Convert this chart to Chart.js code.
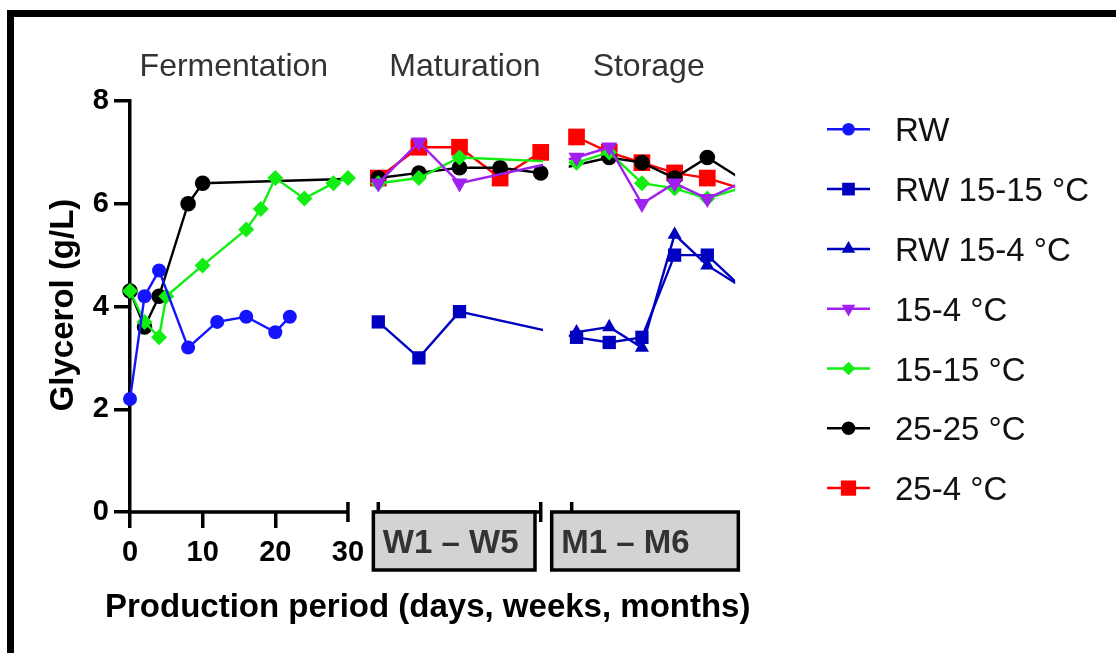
<!DOCTYPE html>
<html lang="en">
<head>
<meta charset="utf-8">
<title>Glycerol during production</title>
<script src="https://cdn.jsdelivr.net/npm/chart.js@4.4.1/dist/chart.umd.min.js"></script>
<style>
  html, body { margin: 0; padding: 0; background: #fff; }
  canvas { display: block; }
</style>
</head>
<body>
<canvas id="glycerolChart" width="1116" height="653"></canvas>
<script>
// x axis is broken in three parts: days, weeks, months
const FERM_TICKS = [0, 10, 20, 30];
const WEEKS = [1, 2, 3, 4, 5];
const MONTHS = [1, 2, 3, 4, 5, 6];

// RW
const rwDays = [0, 2, 4, 8, 12, 16, 20, 22];
const rwFerm = [2.2, 4.2, 4.7, 3.2, 3.7, 3.8, 3.5, 3.8];

// RW 15-15 °C
const rw1515Weeks = [3.7, 3.0, 3.9, null, null];
const rw1515Months = [3.4, 3.3, 3.4, 5.0, 5.0, 4.4];

// RW 15-4 °C
const rw154Months = [3.5, 3.6, 3.2, 5.4, 4.8, 4.4];

// 15-4 °C
const t154Weeks = [6.4, 7.2, 6.4, null, null];
const t154Months = [6.9, 7.1, 6.0, 6.4, 6.1, 6.4];

// 15-15 °C
const t1515Days = [0, 2, 4, 5, 10, 16, 18, 20, 24, 28, 30];
const t1515Ferm = [4.3, 3.7, 3.4, 4.2, 4.8, 5.5, 5.9, 6.5, 6.1, 6.4, 6.5];
const t1515Weeks = [6.4, 6.5, 6.9, null, null];
const t1515Months = [6.8, 7.0, 6.4, 6.3, 6.1, 6.3];

// 25-25 °C
const t2525Days = [0, 2, 4, 8, 10];
const t2525Ferm = [4.3, 3.6, 4.2, 6.0, 6.4];
const t2525Weeks = [6.5, 6.6, 6.7, 6.7, 6.6];
const t2525Months = [null, 6.9, 6.8, 6.5, 6.9, 6.5];

// 25-4 °C
const t254Weeks = [6.5, 7.1, 7.1, 6.5, 7.0];
const t254Months = [7.3, 7.0, 6.8, 6.6, 6.5, 6.3];

// where weeks and months sit on the shared linear x scale
const WEEK_ORIGIN = 34.18, WEEK_STEP = 5.59;
const MONTH_ORIGIN = 61.47, MONTH_STEP = 4.5;
const weekX = w => WEEK_ORIGIN + (w - 1) * WEEK_STEP;
const monthX = m => MONTH_ORIGIN + (m - 1) * MONTH_STEP;

// the three visible pieces of the x axis (in x scale units)
const AXIS_PARTS = [
  { header: 'Fermentation', headerAt: 14.3, clip: [-5, 30] },
  { header: 'Maturation', headerAt: 46.1, clip: [33.6, 56.85], box: [33.5, 55.75], boxText: 'W1 \u2013 W5' },
  { header: 'Storage', headerAt: 71.4, clip: [60.4, 83.3], box: [58.05, 83.74], boxText: 'M1 \u2013 M6' }
];

const FONT = '"Liberation Sans", Arial, Helvetica, sans-serif';

const SERIES = [
  { label: 'RW', color: '#1414ff', style: 'circle', r: 7, legendR: 6.3, days: rwDays, ferm: rwFerm },
  { label: 'RW 15-15 \u00b0C', color: '#0000bf', style: 'rect', r: 9.4, legendR: 9, weeks: rw1515Weeks, months: rw1515Months },
  { label: 'RW 15-4 \u00b0C', color: '#0000bf', style: 'triangle', r: 8.2, legendR: 7.8, months: rw154Months },
  { label: '15-4 \u00b0C', color: '#a020f0', style: 'triangle', rot: 180, r: 9.3, legendR: 7.8, weeks: t154Weeks, months: t154Months },
  { label: '15-15 \u00b0C', color: '#12ee12', style: 'rectRot', r: 8, legendR: 6.8, days: t1515Days, ferm: t1515Ferm, weeks: t1515Weeks, months: t1515Months },
  { label: '25-25 \u00b0C', color: '#000000', style: 'circle', r: 7.8, legendR: 6.8, days: t2525Days, ferm: t2525Ferm, weeks: t2525Weeks, months: t2525Months },
  { label: '25-4 \u00b0C', color: '#ff0000', style: 'rect', r: 11.8, legendR: 10.8, weeks: t254Weeks, months: t254Months }
];

function seriesPoints(s) {
  const pts = [];
  (s.days || []).forEach((d, i) => pts.push({ x: d, y: s.ferm[i] }));
  (s.weeks || []).forEach((v, i) => { if (v !== null) pts.push({ x: weekX(WEEKS[i]), y: v }); });
  (s.months || []).forEach((v, i) => { if (v !== null) pts.push({ x: monthX(MONTHS[i]), y: v }); });
  return pts;
}

// markers are only drawn inside a visible piece of the axis
const onAxis = x => AXIS_PARTS.some(p => x >= p.clip[0] - 0.3 && x <= p.clip[1] + 0.3);

const datasets = [];
SERIES.forEach(s => {
  const pts = seriesPoints(s);
  datasets.push({
    label: s.label,
    data: pts.filter(p => onAxis(p.x)),
    showLine: false,
    pointStyle: s.style,
    pointRotation: s.rot || 0,
    pointRadius: s.r,
    pointBackgroundColor: s.color,
    pointBorderWidth: 0,
    clip: false
  });
  datasets.push({
    label: s.label,
    data: pts,
    borderColor: s.color,
    borderWidth: 2.4,
    pointRadius: 0,
    tension: 0,
    fill: false,
    brokenAxis: true
  });
});

// clip connecting lines to the axis pieces, so they stop in the gaps
const breakClip = {
  id: 'breakClip',
  beforeDatasetDraw(chart, args) {
    if (!chart.data.datasets[args.index].brokenAxis) return;
    const { ctx, chartArea, scales: { x } } = chart;
    ctx.save();
    ctx.beginPath();
    AXIS_PARTS.forEach(p => {
      const l = x.getPixelForValue(p.clip[0]);
      const r = x.getPixelForValue(p.clip[1]);
      ctx.rect(l, chartArea.top - 20, r - l, chartArea.bottom - chartArea.top + 40);
    });
    ctx.clip();
  },
  afterDatasetDraw(chart, args) {
    if (chart.data.datasets[args.index].brokenAxis) chart.ctx.restore();
  }
};

// frame, axis pieces, period boxes, titles and legend
const decorations = {
  id: 'decorations',
  afterDraw(chart) {
    const { ctx, scales: { x, y } } = chart;
    const base = y.getPixelForValue(0);
    ctx.save();

    // outer frame (top and left edges)
    ctx.fillStyle = '#000';
    ctx.fillRect(7, 10, chart.width - 7, 7);
    ctx.fillRect(7, 10, 7, chart.height - 10);

    // axis lines
    ctx.strokeStyle = '#000';
    ctx.lineWidth = 3.5;
    ctx.beginPath();
    ctx.moveTo(x.getPixelForValue(0) - 1.75, base);
    ctx.lineTo(x.getPixelForValue(30) + 1.75, base);
    ctx.moveTo(x.getPixelForValue(30), base - 10);
    ctx.lineTo(x.getPixelForValue(30), base + 10);
    // maturation piece
    const w1 = x.getPixelForValue(weekX(1));
    const w5 = x.getPixelForValue(weekX(5));
    ctx.moveTo(x.getPixelForValue(33.6), base);
    ctx.lineTo(w5 + 1.75, base);
    ctx.moveTo(w1, base - 10);
    ctx.lineTo(w1, base);
    ctx.moveTo(w5, base - 10);
    ctx.lineTo(w5, base + 10);
    // storage piece
    const m0 = x.getPixelForValue(60.8);
    ctx.moveTo(m0, base - 10);
    ctx.lineTo(m0, base);
    ctx.stroke();

    // period boxes under the axis
    AXIS_PARTS.filter(p => p.box).forEach(p => {
      const l = x.getPixelForValue(p.box[0]);
      const r = x.getPixelForValue(p.box[1]);
      ctx.fillStyle = '#d3d3d3';
      ctx.fillRect(l, base, r - l, 58);
      ctx.lineWidth = 3.5;
      ctx.strokeStyle = '#000';
      ctx.strokeRect(l, base, r - l, 58);
      ctx.fillStyle = '#333';
      ctx.font = 'bold 33px ' + FONT;
      ctx.textAlign = 'left';
      ctx.textBaseline = 'alphabetic';
      ctx.fillText(p.boxText, l + 9.5, base + 41);
    });

    // period headers
    ctx.fillStyle = '#333';
    ctx.font = '32px ' + FONT;
    ctx.textAlign = 'center';
    ctx.textBaseline = 'alphabetic';
    AXIS_PARTS.forEach(p => ctx.fillText(p.header, x.getPixelForValue(p.headerAt), 76));

    // axis titles
    ctx.fillStyle = '#000';
    ctx.font = 'bold 33px ' + FONT;
    ctx.textAlign = 'left';
    ctx.fillText('Production period (days, weeks, months)', 105, 617, 652);

    ctx.save();
    ctx.translate(64, 305);
    ctx.rotate(-Math.PI / 2);
    ctx.font = 'bold 33px ' + FONT;
    ctx.textAlign = 'center';
    ctx.textBaseline = 'middle';
    ctx.fillText('Glycerol (g/L)', 0, 0);
    ctx.restore();

    // legend
    SERIES.forEach((s, i) => {
      const ly = 129.3 + i * 59.8;
      ctx.strokeStyle = s.color;
      ctx.lineWidth = 2.5;
      ctx.beginPath();
      ctx.moveTo(827, ly);
      ctx.lineTo(870, ly);
      ctx.stroke();
      ctx.fillStyle = s.color;
      Chart.helpers.drawPoint(ctx, {
        pointStyle: s.style, rotation: s.rot || 0, radius: s.legendR, borderWidth: 0
      }, 848.5, ly);
      ctx.fillStyle = '#111';
      ctx.font = '33px ' + FONT;
      ctx.textAlign = 'left';
      ctx.textBaseline = 'alphabetic';
      ctx.fillText(s.label, 895, ly + 12);
    });

    ctx.restore();
  }
};

new Chart(document.getElementById('glycerolChart'), {
  type: 'line',
  data: { datasets },
  options: {
    responsive: false,
    animation: false,
    events: [],
    layout: { padding: { left: 70, right: 354, top: 101, bottom: 81 } },
    plugins: {
      legend: { display: false },
      tooltip: { enabled: false }
    },
    scales: {
      x: {
        type: 'linear',
        min: 0,
        max: 87,
        afterBuildTicks: s => { s.ticks = FERM_TICKS.map(v => ({ value: v })); },
        afterFit: s => { s.height = 60; },
        border: { display: false },
        grid: {
          drawOnChartArea: false,
          tickLength: 16,
          lineWidth: 3.5,
          tickColor: c => (c.tick && c.tick.value === 30 ? 'rgba(0,0,0,0)' : '#000')
        },
        ticks: {
          autoSkip: false,
          maxRotation: 0,
          padding: 8,
          color: '#000',
          font: { family: FONT, size: 29, weight: 'bold' }
        }
      },
      y: {
        min: 0,
        max: 8,
        afterFit: s => { s.width = 60; },
        border: { display: true, color: '#000', width: 3.5 },
        grid: {
          drawOnChartArea: false,
          tickLength: 16,
          lineWidth: 3.5,
          tickColor: '#000'
        },
        ticks: {
          stepSize: 2,
          padding: 5,
          color: '#000',
          font: { family: FONT, size: 29, weight: 'bold' }
        }
      }
    }
  },
  plugins: [breakClip, decorations]
});
</script>
</body>
</html>
